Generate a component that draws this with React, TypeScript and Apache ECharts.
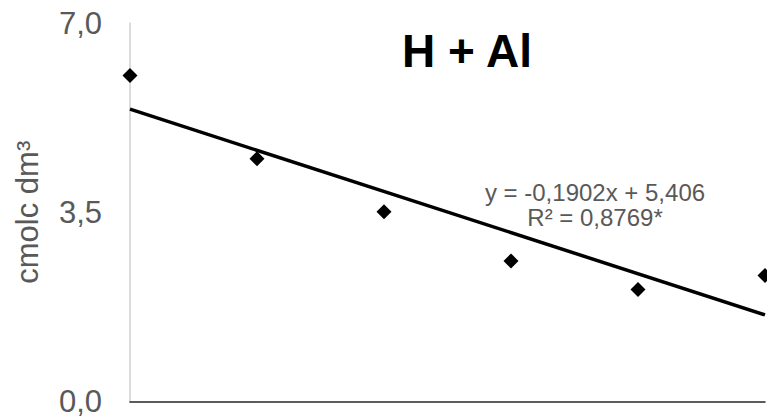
import React, { useEffect, useRef } from "react";
import * as echarts from "echarts";

const xValues = [0, 4, 8, 12, 16, 20];
const yValues = [6.03, 4.49, 3.51, 2.6, 2.07, 2.33];
const yTicks = [0, 3.5, 7];
const SLOPE = -0.1902;
const INTERCEPT = 5.406;
const TITLE = "H + Al";
const Y_NAME = "cmolc dm³";
const EQ_LINE1 = "y = -0,1902x + 5,406";
const EQ_LINE2 = "R² = 0,8769*";

const FONT = "Liberation Sans, Arial, sans-serif";

export default function App() {
  const ref = useRef<HTMLDivElement>(null);
  useEffect(() => {
    if (!ref.current) return;
    const chart = echarts.init(ref.current, undefined, { renderer: "svg" });
    const xMin = xValues[0];
    const xMax = xValues[xValues.length - 1];
    const eqStyle = {
      fill: "#595959",
      font: `24px ${FONT}`,
      textAlign: "center",
      textVerticalAlign: "top",
    };
    chart.setOption({
      animation: false,
      backgroundColor: "#ffffff",
      title: {
        text: TITLE,
        left: 397,
        top: 23,
        textStyle: { fontFamily: FONT, fontSize: 46, fontWeight: "bold", color: "#000000" },
      },
      grid: { left: 130, right: 2, top: 23, bottom: 14, containLabel: false },
      xAxis: {
        type: "value",
        min: xMin,
        max: xMax,
        axisLine: { show: true, lineStyle: { color: "#262626", width: 1.5 } },
        axisTick: { show: false },
        axisLabel: { show: false },
        splitLine: { show: false },
      },
      yAxis: {
        type: "value",
        min: yTicks[0],
        max: yTicks[yTicks.length - 1],
        interval: yTicks[1] - yTicks[0],
        name: Y_NAME,
        nameLocation: "middle",
        nameGap: 87,
        nameRotate: 90,
        nameTextStyle: { fontFamily: FONT, fontSize: 31, color: "#595959" },
        axisLine: { show: true, lineStyle: { color: "#d0d0d0", width: 1.5 } },
        axisTick: { show: false },
        splitLine: { show: false },
        axisLabel: {
          margin: 28,
          fontFamily: FONT,
          fontSize: 31,
          lineHeight: 26,
          color: "#595959",
          formatter: (v: number) => v.toFixed(1).replace(".", ","),
        },
      },
      graphic: [
        { type: "text", x: 595, y: 180, style: { ...eqStyle, text: EQ_LINE1 } },
        { type: "text", x: 595, y: 205, style: { ...eqStyle, text: EQ_LINE2 } },
      ],
      series: [
        {
          type: "line",
          data: [
            [xMin, INTERCEPT + SLOPE * xMin],
            [xMax, INTERCEPT + SLOPE * xMax],
          ],
          symbol: "none",
          lineStyle: { color: "#000000", width: 3.5 },
          silent: true,
          z: 2,
        },
        {
          type: "scatter",
          data: xValues.map((x, i) => [x, yValues[i]]),
          symbol: "diamond",
          symbolSize: 15,
          itemStyle: { color: "#000000", opacity: 1 },
          clip: false,
          z: 3,
        },
      ],
    });
    return () => chart.dispose();
  }, []);
  return (
    <div
      ref={ref}
      style={{ position: "fixed", left: 0, top: 0, width: 767, height: 417, background: "#fff" }}
    />
  );
}
